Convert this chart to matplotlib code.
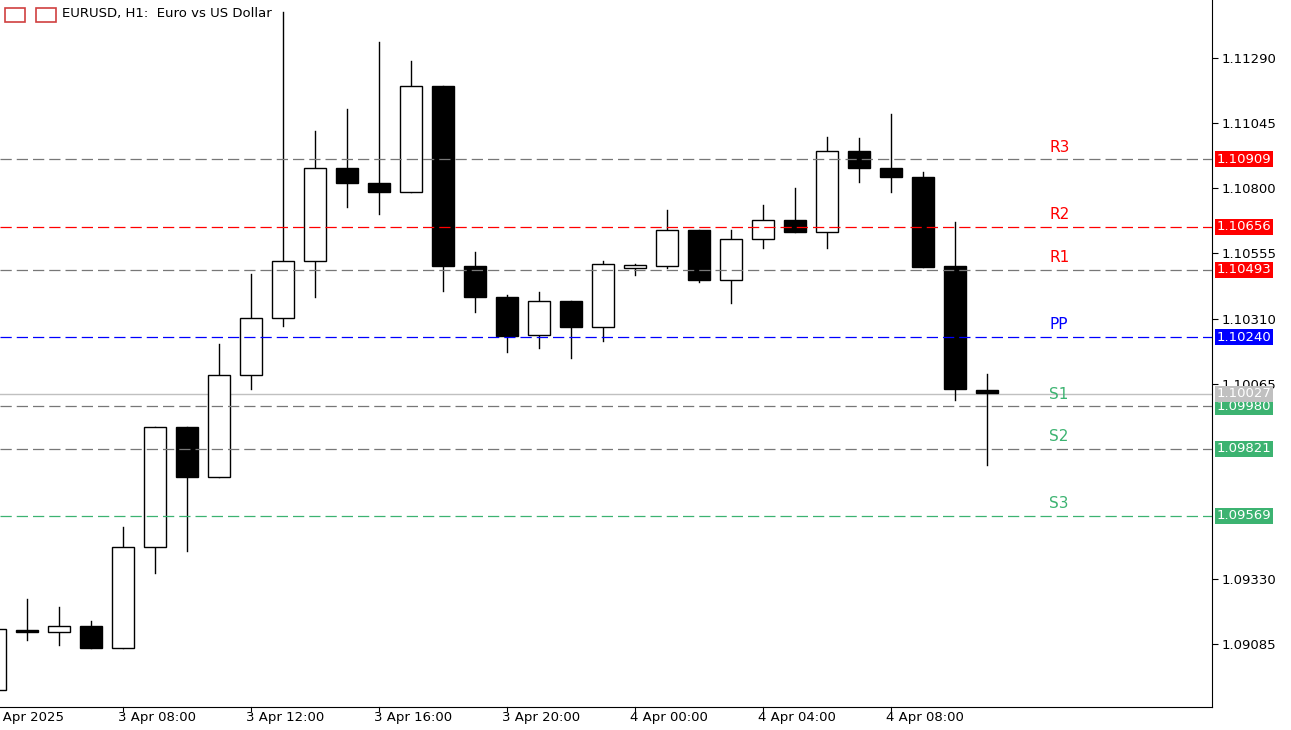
import matplotlib
matplotlib.use("Agg")
import matplotlib.pyplot as plt
from matplotlib.patches import Rectangle

opens  = [1.08914,1.09139,1.09132,1.09154,1.09072,1.09451,1.09903,1.09715,1.10098,1.10312,1.10527,1.10876,1.10820,1.10786,1.11185,1.10508,1.10391,1.10249,1.10376,1.10279,1.10500,1.10508,1.10643,1.10455,1.10609,1.10681,1.10636,1.10940,1.10876,1.10843,1.10508,1.10042]
closes = [1.09143,1.09132,1.09154,1.09072,1.09451,1.09903,1.09715,1.10098,1.10312,1.10527,1.10876,1.10820,1.10786,1.11185,1.10508,1.10391,1.10245,1.10376,1.10279,1.10515,1.10512,1.10643,1.10455,1.10609,1.10681,1.10636,1.10940,1.10876,1.10843,1.10504,1.10045,1.10030]
highs  = [1.09143,1.09256,1.09226,1.09173,1.09527,1.09903,1.09903,1.10215,1.10478,1.11463,1.11016,1.11098,1.11350,1.11279,1.11185,1.10561,1.10399,1.10410,1.10376,1.10527,1.10515,1.10718,1.10643,1.10643,1.10737,1.10801,1.10993,1.10989,1.11079,1.10861,1.10673,1.10102]
lows   = [1.08914,1.09102,1.09083,1.09072,1.09072,1.09354,1.09436,1.09715,1.10045,1.10282,1.10391,1.10730,1.10703,1.10786,1.10414,1.10335,1.10185,1.10200,1.10162,1.10226,1.10474,1.10500,1.10448,1.10369,1.10576,1.10636,1.10576,1.10824,1.10786,1.10504,1.10004,1.09760]

level_names  = ["R3","R2","R1","PP","S1","S2","S3"]
level_values = [1.10909,1.10656,1.10493,1.10240,1.09980,1.09821,1.09569]
level_line_colors = ["#777777","#ff0000","#777777","#0000ff","#777777","#777777","#3cb371"]
level_text_colors = ["#ff0000","#ff0000","#ff0000","#0000ff","#3cb371","#3cb371","#3cb371"]
current_price = 1.10027
y_ticks = [1.11290,1.11045,1.10800,1.10555,1.10310,1.10065,1.09330,1.09085]
time_labels = ["3 Apr 2025","3 Apr 08:00","3 Apr 12:00","3 Apr 16:00","3 Apr 20:00","4 Apr 00:00","4 Apr 04:00","4 Apr 08:00"]
time_label_idx = [0,4,8,12,16,20,24,28]

W,H = 1291,730
fig = plt.figure(figsize=(W/100,H/100),dpi=100)
ax = fig.add_axes([0,23/H,1212/W,707/H])
ax.set_xlim(0.156,38.03)
ax.set_ylim(1.08850,1.11508)

bw = 0.69
for i,(o,c,h,l) in enumerate(zip(opens,closes,highs,lows)):
    ax.plot([i,i],[l,h],color="black",lw=1,zorder=3)
    bottom = min(o,c); height = max(abs(c-o),0.00003)
    fc = "white" if c>o else "black"
    ax.add_patch(Rectangle((i-bw/2,bottom),bw,height,facecolor=fc,edgecolor="black",lw=1,zorder=4))

for n,v,lc,tc in zip(level_names,level_values,level_line_colors,level_text_colors):
    ax.axhline(v,color=lc,ls=(0,(9,4)),lw=0.9,zorder=5)
    ax.text(32.95,v+0.00018,n,color=tc,fontsize=11,ha="left",va="bottom",zorder=6)
ax.axhline(current_price,color="#c0c0c0",lw=1,zorder=2)

ax.yaxis.tick_right()
ax.set_yticks(y_ticks)
ax.set_yticklabels([f"{t:.5f}" for t in y_ticks],fontsize=9.5)
ax.tick_params(axis="y",length=4,pad=3)
ax.set_xticks([])
for s in ["top","left"]:
    ax.spines[s].set_visible(False)

def tag(v,text,bg):
    ax.text(1.0+5/1212,v,text,transform=ax.get_yaxis_transform(),fontsize=9.5,color="white",
            va="center",ha="left",bbox=dict(boxstyle="square,pad=0.12",fc=bg,ec="none"),zorder=7,clip_on=False)
for n,v,tc in zip(level_names,level_values,level_text_colors):
    tag(v,f"{v:.5f}",tc)
tag(current_price,f"{current_price:.5f}","#c0c0c0")

for idx,lab in zip(time_label_idx,time_labels):
    ax.text(idx-0.15,-0.006,lab,transform=ax.get_xaxis_transform(),fontsize=9.5,ha="left",va="top")
    ax.plot([idx,idx],[0,-0.006],transform=ax.get_xaxis_transform(),color="black",lw=0.8,clip_on=False)

fig.text(62/W,1-14/H,"EURUSD, H1:  Euro vs US Dollar",fontsize=9.5,va="center",ha="left")
fig.patches.append(Rectangle((5/W,1-22/H),20/W,14/H,transform=fig.transFigure,fc="white",ec="#d04040",lw=1.2))
fig.patches.append(Rectangle((36/W,1-22/H),20/W,14/H,transform=fig.transFigure,fc="white",ec="#d04040",lw=1.2))
fig.savefig("out.png",dpi=100)
